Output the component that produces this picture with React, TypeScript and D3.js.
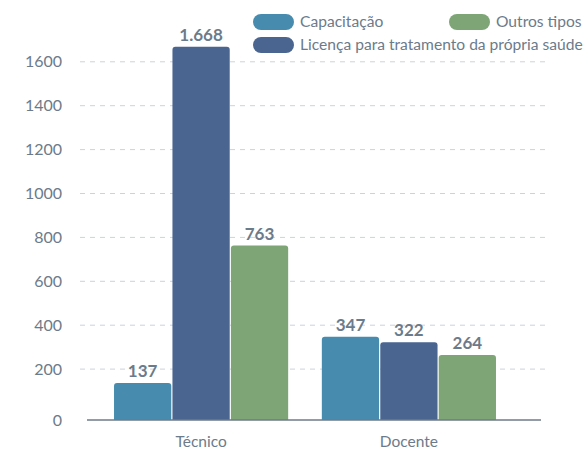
import React from "react";
import * as d3 from "d3";

const categories = ["Técnico", "Docente"];
const seriesNames = ["Capacitação", "Licença para tratamento da própria saúde", "Outros tipos"];
const capacitacao = [137, 347];
const licenca = [1668, 322];
const outros = [763, 264];
const valueLabels = [["137", "347"], ["1.668", "322"], ["763", "264"]];
const yTicks = [0, 200, 400, 600, 800, 1000, 1200, 1400, 1600];
const colors = ["#478CAE", "#4A6690", "#7DA575"];

const W = 587;
const H = 449;
const FONT = "Lato, 'Noto Sans', sans-serif";
const TEXT = "#6C7B8A";

export default function App() {
  const series = [capacitacao, licenca, outros];
  const axisY = 420;
  const y = d3.scaleLinear().domain([0, 1700]).range([413, 413 - 0.2195 * 1700]);
  const x0 = d3.scaleBand<string>().domain(categories).range([87, 523]).paddingInner(0.162).paddingOuter(0.13);
  const x1 = d3.scaleBand<number>().domain([0, 1, 2]).range([0, x0.bandwidth()]).paddingInner(0.02);
  const r = 3;

  const barPath = (x: number, w: number, top: number, bottom: number) => {
    return `M${x},${bottom}V${top + r}Q${x},${top} ${x + r},${top}H${x + w - r}Q${x + w},${top} ${x + w},${top + r}V${bottom}Z`;
  };

  return (
    <svg width={W} height={H} style={{ position: "absolute", left: 0, top: 0, fontFamily: FONT }}>
      {yTicks.map((t) => {
        const yy = t === 0 ? axisY : y(t);
        return (
          <g key={t}>
            {t !== 0 && (
              <line x1={80} x2={546} y1={yy} y2={yy} stroke="#CDD3DA" strokeWidth={1} strokeDasharray="5,5" />
            )}
            <text x={62} y={yy} dy="0.35em" textAnchor="end" fontSize={16} fill={TEXT}>
              {t}
            </text>
          </g>
        );
      })}
      {categories.map((c, ci) => (
        <g key={c}>
          {series.map((s, si) => {
            const bx = (x0(c) as number) + (x1(si) as number);
            const bw = x1.bandwidth();
            const top = y(s[ci]);
            return (
              <g key={si}>
                <path d={barPath(bx, bw, top, axisY)} fill={colors[si]} />
                <text x={bx + bw / 2} y={top - 6} textAnchor="middle" fontSize={17} fontWeight="bold" fill={TEXT}>
                  {valueLabels[si][ci]}
                </text>
              </g>
            );
          })}
          <text x={(x0(c) as number) + x0.bandwidth() / 2} y={447} textAnchor="middle" fontSize={15.5} fill={TEXT}>
            {c}
          </text>
        </g>
      ))}
      <line x1={87} x2={541} y1={axisY} y2={axisY} stroke="#6C7B8A" strokeWidth={1.5} />
      {[
        { i: 0, x: 253, y: 14 },
        { i: 1, x: 253, y: 37 },
        { i: 2, x: 449, y: 14 },
      ].map(({ i, x, y: ly }) => (
        <g key={i}>
          <rect x={x} y={ly} width={41} height={16} rx={8} fill={colors[i]} />
          <text x={x + 47} y={ly + 8} dy="0.35em" fontSize={15.6} fill={TEXT}>
            {seriesNames[i]}
          </text>
        </g>
      ))}
    </svg>
  );
}
